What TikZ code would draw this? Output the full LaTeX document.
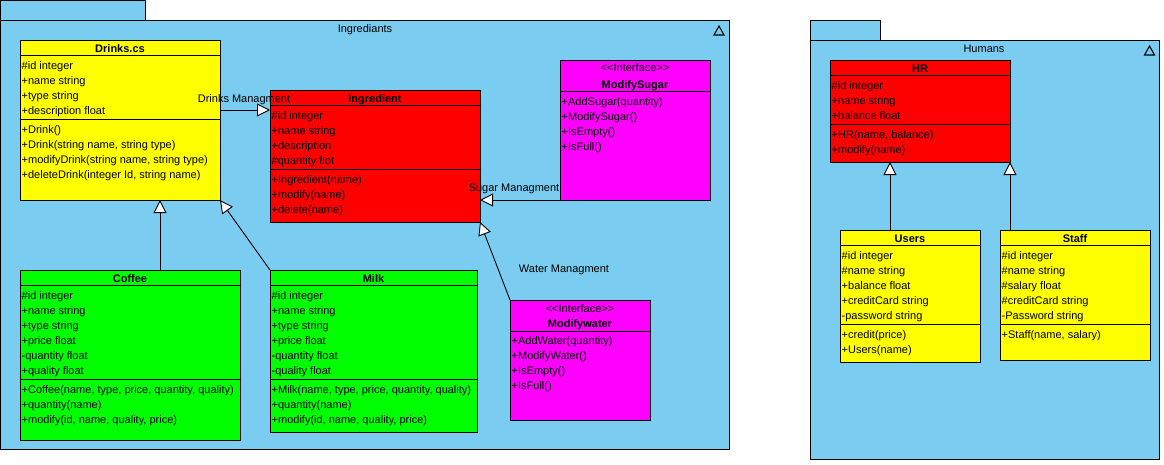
\documentclass[tikz,border=0pt]{standalone}
\usepackage{fontspec}
\setmainfont{Liberation Sans}
\usetikzlibrary{arrows.meta}

\definecolor{pkgblue}{RGB}{122,205,241}
\definecolor{clsyellow}{RGB}{255,255,0}
\definecolor{clsred}{RGB}{255,0,0}
\definecolor{clsgreen}{RGB}{0,255,0}
\definecolor{clsmagenta}{RGB}{255,0,255}

\tikzset{
  pkg/.style={draw=black, fill=pkgblue, line width=0.9pt},
  cls/.style={draw=black, line width=0.9pt, anchor=north west, inner sep=0pt, outer sep=0pt},
  row/.style={anchor=base west, inner sep=0pt, font=\fontsize{11}{13}\selectfont},
  title/.style={anchor=base, inner sep=0pt, font=\fontsize{11}{13}\selectfont\bfseries},
  stereo/.style={anchor=base, inner sep=0pt, font=\fontsize{11}{13}\selectfont},
  lbl/.style={anchor=base, inner sep=0pt, font=\fontsize{11}{13}\selectfont},
  sep/.style={draw=black, line width=0.9pt},
  pkgicon/.style={draw=black, line width=1.1pt, line join=miter},
  inh/.style={draw=black, line width=0.9pt, -{Triangle[fill=white, length=13pt, width=13pt]}},
}

% rows of a class compartment: name prefix, left x, first baseline, list of rows
\newcommand{\umlrows}[4]{%
  \foreach \t [count=\i] in {#4}
    \node[row] (#1-\i) at (#2+1.5, #3+15*\i-15) {\t};
}
\newcommand{\stereotxt}{{<}{<}Interface{>}{>}}

\begin{document}
\begin{tikzpicture}[x=1pt, y=-1pt]
\useasboundingbox (0,0) rectangle (1164,464);
\fill[white] (0,0) rectangle (1164,464);

% ---------------- package Ingrediants ----------------
\draw[pkg] (0.5,0.5) rectangle (145,20);
\draw[pkg] (0.5,20) rectangle (729,449);
\node[lbl] (pkgI) at (365,32) {Ingrediants};
\draw[pkgicon] (719,26) -- (724,35) -- (714,35) -- cycle;

% ---------------- package Humans ----------------
\draw[pkg] (810,20) rectangle (880,40);
\draw[pkg] (810,40) rectangle (1159,459);
\node[lbl] (pkgH) at (984,52) {Humans};
\draw[pkgicon] (1149.5,46) -- (1154.5,55) -- (1144.5,55) -- cycle;

% ---------------- Drinks.cs ----------------
\node[cls, fill=clsyellow, minimum width=200pt, minimum height=160pt] (drinks) at (20,40) {};
\node[title] (drinks-t) at (120,52) {Drinks.cs};
\draw[sep] (20,55) -- (220,55);
\draw[sep] (20,119) -- (220,119);
\umlrows{drinks-a}{20}{69}{{\#id integer},{+name string},{+type string},{+description float}}
\umlrows{drinks-m}{20}{133}{{+Drink()},{+Drink(string name, string type)},{+modifyDrink(string name, string type)},{+deleteDrink(integer Id, string name)}}

% ---------------- Ingredient ----------------
\node[cls, fill=clsred, minimum width=210pt, minimum height=132pt] (ingr) at (270,90) {};
\node[title] (ingr-t) at (375,102) {Ingredient};
\draw[sep] (270,105) -- (480,105);
\draw[sep] (270,169) -- (480,169);
\umlrows{ingr-a}{270}{119}{{\#id integer},{+name string},{+description},{\#quantity flot}}
\umlrows{ingr-m}{270}{183}{{+Ingredient(name)},{+modify(name)},{+delete(name)}}

% ---------------- ModifySugar ----------------
\node[cls, fill=clsmagenta, minimum width=150pt, minimum height=140pt] (sugar) at (560,60) {};
\node[stereo] (sugar-s) at (635,71) {\stereotxt};
\node[title] (sugar-t) at (635,88) {ModifySugar};
\draw[sep] (560,91) -- (710,91);
\umlrows{sugar-m}{560}{105}{{+AddSugar(quantity)},{+ModifySugar()},{+IsEmpty()},{+IsFull()}}

% ---------------- Coffee ----------------
\node[cls, fill=clsgreen, minimum width=220pt, minimum height=170pt] (coffee) at (20,270) {};
\node[title] (coffee-t) at (130,282) {Coffee};
\draw[sep] (20,285) -- (240,285);
\draw[sep] (20,379) -- (240,379);
\umlrows{coffee-a}{20}{299}{{\#id integer},{+name string},{+type string},{+price float},{-quantity float},{+quality float}}
\umlrows{coffee-m}{20}{393}{{+Coffee(name, type, price, quantity, quality)},{+quantity(name)},{+modify(id, name, quality, price)}}

% ---------------- Milk ----------------
\node[cls, fill=clsgreen, minimum width=207pt, minimum height=162pt] (milk) at (270,270) {};
\node[title] (milk-t) at (373.5,282) {Milk};
\draw[sep] (270,285) -- (477,285);
\draw[sep] (270,379) -- (477,379);
\umlrows{milk-a}{270}{299}{{\#id integer},{+name string},{+type string},{+price float},{-quantity float},{-quality float}}
\umlrows{milk-m}{270}{393}{{+Milk(name, type, price, quantity, quality)},{+quantity(name)},{+modify(id, name, quality, price)}}

% ---------------- Modifywater ----------------
\node[cls, fill=clsmagenta, minimum width=140pt, minimum height=120pt] (water) at (510,300) {};
\node[stereo] (water-s) at (580,312) {\stereotxt};
\node[title] (water-t) at (580,327) {Modifywater};
\draw[sep] (510,331) -- (650,331);
\umlrows{water-m}{510}{344}{{+AddWater(quantity)},{+ModifyWater()},{+IsEmpty()},{+IsFull()}}

% ---------------- HR ----------------
\node[cls, fill=clsred, minimum width=180pt, minimum height=102pt] (hr) at (830,60) {};
\node[title] (hr-t) at (920,72) {HR};
\draw[sep] (830,75) -- (1010,75);
\draw[sep] (830,124) -- (1010,124);
\umlrows{hr-a}{830}{89}{{\#id integer},{+name string},{+balance float}}
\umlrows{hr-m}{830}{138}{{+HR(name, balance)},{+modify(name)}}

% ---------------- Users ----------------
\node[cls, fill=clsyellow, minimum width=140pt, minimum height=132pt] (users) at (840,230) {};
\node[title] (users-t) at (910,242) {Users};
\draw[sep] (840,245) -- (980,245);
\draw[sep] (840,324) -- (980,324);
\umlrows{users-a}{840}{259}{{\#id integer},{\#name string},{+balance float},{+creditCard string},{-password string}}
\umlrows{users-m}{840}{338}{{+credit(price)},{+Users(name)}}

% ---------------- Staff ----------------
\node[cls, fill=clsyellow, minimum width=150pt, minimum height=130pt] (staff) at (1000,230) {};
\node[title] (staff-t) at (1075,242) {Staff};
\draw[sep] (1000,245) -- (1150,245);
\draw[sep] (1000,324) -- (1150,324);
\umlrows{staff-a}{1000}{259}{{\#id integer},{\#name string},{\#salary float},{\#creditCard string},{-Password string}}
\umlrows{staff-m}{1000}{338}{{+Staff(name, salary)}}

% ---------------- relations ----------------
\coordinate (dmY) at (0,110);
\draw[inh] (drinks.east |- dmY) -- (ingr.west |- dmY);
\node[lbl] (dmL) at (244,102) {Drinks Managment};

\draw[inh] ([xshift=140pt]coffee.north west) -- ([xshift=140pt]coffee.north west |- drinks.south);
\draw[inh] (milk.north west) -- (drinks.south east);

\draw[inh] (sugar.south west) -- (sugar.south west -| ingr.east);
\node[lbl] (smL) at (514,191.5) {Sugar Managment};

\draw[inh] (water.north west) -- (ingr.south east);
\node[lbl] (wmL) at (564,272) {Water Managment};

\draw[inh] ([xshift=50pt]users.north west) -- ([xshift=50pt]users.north west |- hr.south);
\draw[inh] ([xshift=10pt]staff.north west) -- (hr.south east);

\end{tikzpicture}
\end{document}
